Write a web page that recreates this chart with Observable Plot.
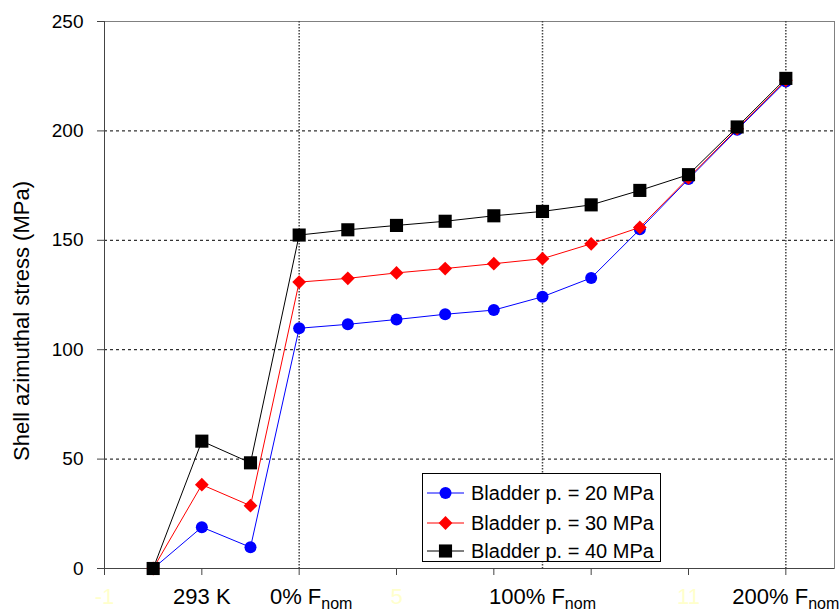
<!DOCTYPE html>
<html>
<head>
<meta charset="utf-8">
<script src="https://cdn.jsdelivr.net/npm/d3@7"></script>
<script src="https://cdn.jsdelivr.net/npm/@observablehq/plot@0.6"></script>
<style>
  html, body { margin: 0; padding: 0; background: #fff; }
  #wrap { position: relative; width: 840px; height: 615px; font-family: "Liberation Sans", Arial, sans-serif; }
  #legend { position: absolute; left: 422px; top: 473px; width: 237px; height: 87px; border: 1px solid #000; background: #fff; }
  .row { position: absolute; left: 0; height: 28px; display: flex; align-items: center; font-size: 20px; color: #000; white-space: nowrap; }
  .row svg { margin-left: 4px; margin-right: 6px; }
</style>
</head>
<body>
<div id="wrap"></div>
<script>
// ---- data ----
const stepIndex = [0, 1, 2, 3, 4, 5, 6, 7, 8, 9, 10, 11, 12, 13];
const seriesNames = ["Bladder p. = 20 MPa", "Bladder p. = 30 MPa", "Bladder p. = 40 MPa"];
const stress20 = [0, 18.9, 9.7, 109.8, 111.6, 113.8, 116.2, 118.1, 124.2, 132.8, 155.0, 178.0, 200.5, 222.6];
const stress30 = [0, 38.3, 28.7, 130.9, 132.6, 135.1, 137.1, 139.3, 141.6, 148.4, 155.9, 178.5, 201.0, 223.2];
const stress40 = [0, 58.2, 48.3, 152.4, 154.8, 156.8, 158.7, 161.2, 163.2, 166.2, 172.8, 180.0, 201.8, 224.0];
const seriesColors = ["#0000ff", "#ff0000", "#000000"];
const seriesSymbols = ["circle", "diamond2", "square"];
const seriesR = [6, 6.2, 7.4];

const xTickValues = [-1, 1, 3, 5, 7, 9, 11, 13];
const xLabelValues = [1, 3, 8, 13];
const xLabelTexts = ["293 K", "0% F", "100% F", "200% F"];
const xHiddenLabelValues = [-1, 5, 11];
const yTickValues = [0, 50, 100, 150, 200, 250];
const yGridValues = [50, 100, 150, 200];
const xGridValues = [3, 8, 13];
const yTitle = "Shell azimuthal stress (MPa)";

const allSeries = [stress20, stress30, stress40];
const rows = allSeries.flatMap((vals, s) =>
  vals.map((v, i) => ({ series: seriesNames[s], x: stepIndex[i], y: v })));

const seriesMarks = seriesNames.flatMap((name, s) => {
  const d = rows.filter(r => r.series === name);
  return [
    Plot.line(d, { x: "x", y: "y", stroke: seriesColors[s], strokeWidth: 1 }),
    Plot.dot(d, { x: "x", y: "y", symbol: () => seriesSymbols[s], r: seriesR[s], fill: seriesColors[s], stroke: "none" })
  ];
});

const chart = Plot.plot({
  width: 840,
  height: 615,
  marginLeft: 104,
  marginRight: 6,
  marginTop: 21,
  marginBottom: 47,
  style: { fontFamily: "'Liberation Sans', Arial, sans-serif", background: "#fff", color: "#000" },
  x: { domain: [-1, 14] },
  y: { domain: [0, 250] },
  symbol: { type: "identity" },
  marks: [
    Plot.frame({ stroke: "#808080" }),
    Plot.gridY(yGridValues, { stroke: "#000", strokeOpacity: 1, strokeDasharray: "3,3" }),
    Plot.gridX(xGridValues, { stroke: "#444", strokeOpacity: 1, strokeWidth: 1.5, strokeDasharray: "1.5,1.5" }),
    Plot.ruleX([-1], { stroke: "#444" }),
    Plot.ruleY([0], { stroke: "#444" }),
    Plot.axisY(yTickValues, { tickSize: 7, tickPadding: 14, fontSize: 19, stroke: "#444", label: null }),
    Plot.axisX(xTickValues, { tickSize: 7, tickFormat: () => "", stroke: "#444", label: null }),
    Plot.axisX(xHiddenLabelValues, { tickSize: 0, tickPadding: 20, fontSize: 22, fill: "#ffffcc", tickFormat: d => String(d), label: null }),
    Plot.axisX(xLabelValues, { tickSize: 0, tickPadding: 20, fontSize: 22, fill: "#000", tickFormat: d => xLabelTexts[xLabelValues.indexOf(d)], label: null }),
    Plot.text([yTitle], { frameAnchor: "left", rotate: -90, dx: -83, dy: 26, fontSize: 22, fill: "#000", textAnchor: "middle", lineAnchor: "middle" }),
    ...seriesMarks
  ]
});

// subscript "nom" on the F labels
d3.select(chart).selectAll("text").each(function () {
  const t = d3.select(this);
  if (/% F$/.test(t.text())) {
    const first = t.text().startsWith("0% F");
    t.append("tspan").attr("font-size", 16).attr("dy", 5).text("nom");
    if (first) t.attr("transform", (t.attr("transform") || "") + " translate(12,0)");
  }
});

const wrap = document.getElementById("wrap");
wrap.appendChild(chart);

// legend
const legend = document.createElement("div");
legend.id = "legend";
const rowTops = [5, 35, 63];
seriesNames.forEach((name, s) => {
  const row = document.createElement("div");
  row.className = "row";
  row.style.top = rowTops[s] + "px";
  const sw = d3.create("svg").attr("width", 38).attr("height", 16);
  sw.append("line").attr("x1", 0).attr("x2", 37).attr("y1", 8).attr("y2", 8).attr("stroke", seriesColors[s]).attr("stroke-width", 1);
  const sym = { circle: d3.symbolCircle, diamond2: d3.symbolDiamond2, square: d3.symbolSquare }[seriesSymbols[s]];
  sw.append("path").attr("transform", "translate(18.5,8)")
    .attr("d", d3.symbol(sym, Math.PI * seriesR[s] * seriesR[s])())
    .attr("fill", seriesColors[s]);
  row.appendChild(sw.node());
  const span = document.createElement("span");
  span.textContent = name;
  row.appendChild(span);
  legend.appendChild(row);
});
wrap.appendChild(legend);
</script>
</body>
</html>
